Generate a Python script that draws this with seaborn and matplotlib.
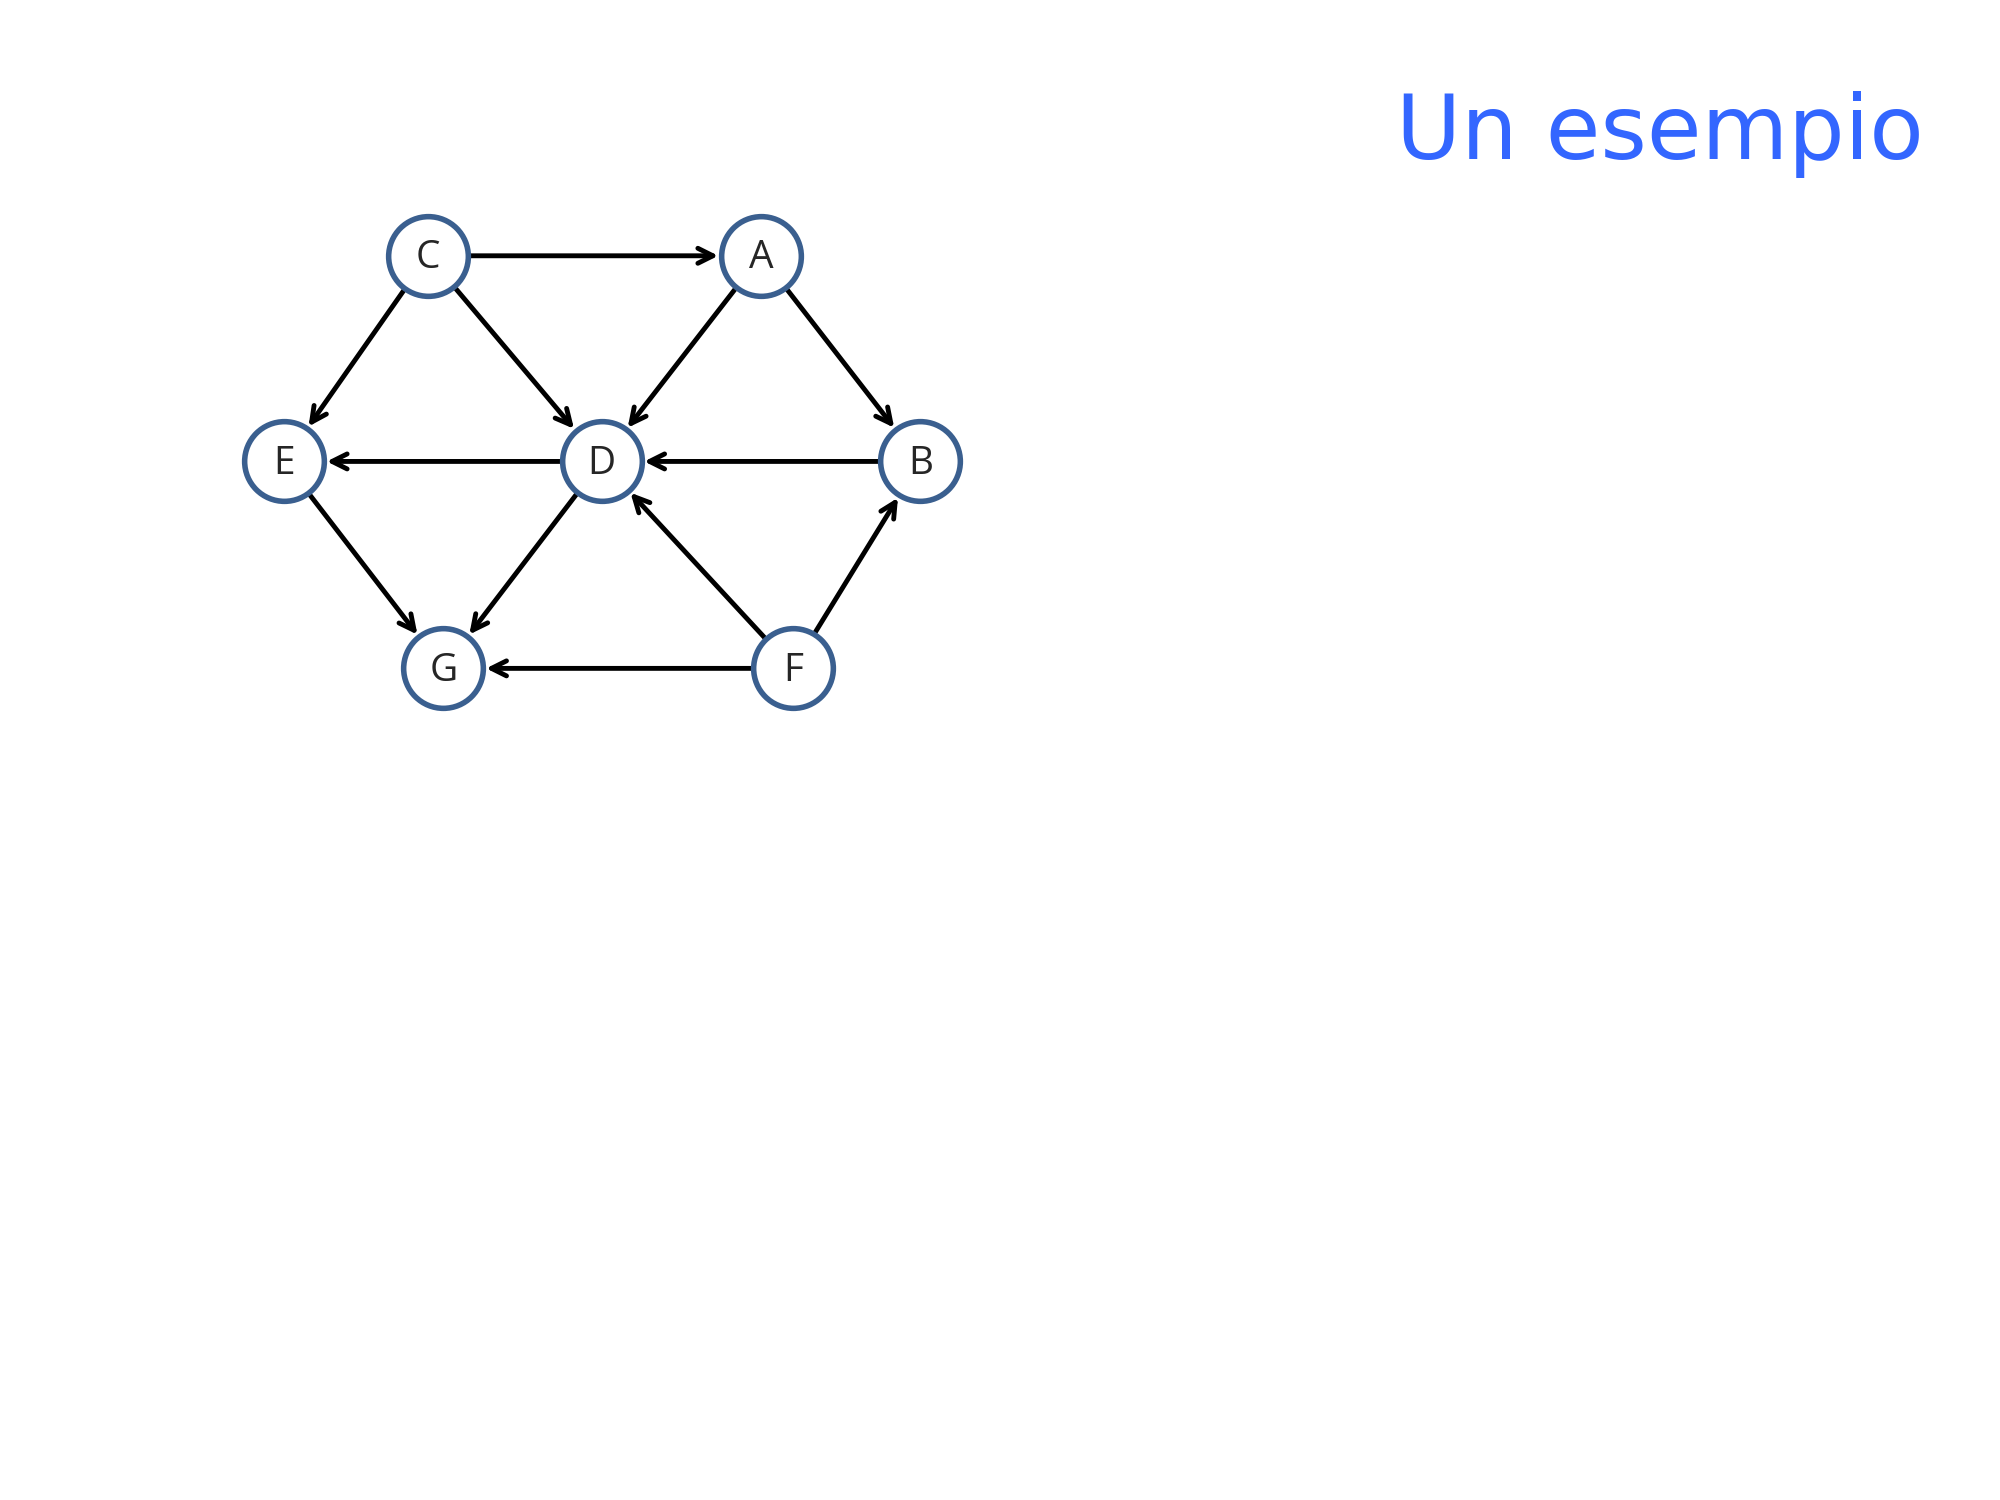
import matplotlib
matplotlib.use("Agg")
import matplotlib.pyplot as plt
import seaborn as sns
import pandas as pd

# node positions (page coords, 1556 x 1167 frame)
names = ["C", "A", "E", "D", "B", "G", "F"]
xs = [333, 592, 221, 468, 716, 345, 617]
ys = [199, 199, 359, 359, 359, 520, 520]
edges = [("C", "A"), ("C", "E"), ("C", "D"), ("A", "D"), ("A", "B"),
         ("D", "E"), ("B", "D"), ("D", "G"), ("E", "G"),
         ("F", "D"), ("F", "B"), ("F", "G")]

sns.set_theme(style="white")
fig = plt.figure(figsize=(20, 15), dpi=100)
ax = fig.add_axes([0, 0, 1, 1])
ax.set_xlim(0, 1556)
ax.set_ylim(1167, 0)
ax.axis("off")

nodes = pd.DataFrame({"name": names, "x": xs, "y": ys})
pos = {n: (x, y) for n, x, y in zip(names, xs, ys)}

# radius in points for marker; node radius ~31 units → scale to points
r_pts = 31 * (20 * 72 / 1556)
for a, b in edges:
    ax.annotate("", xy=pos[b], xytext=pos[a],
                arrowprops=dict(arrowstyle="->,head_length=0.9,head_width=0.45",
                                lw=3.5, color="black",
                                shrinkA=r_pts, shrinkB=r_pts + 2),
                zorder=1)

sns.scatterplot(data=nodes, x="x", y="y", ax=ax, s=(2 * r_pts) ** 2,
                color="white", edgecolor="#3A5F8F", linewidth=4, zorder=2,
                legend=False)
for n, x, y in zip(names, xs, ys):
    ax.text(x, y + 2, n, ha="center", va="center", fontsize=28,
            family="Open Sans", zorder=3)

ax.text(1497, 105, "Un esempio", ha="right", va="center", fontsize=64,
        color="#3366FF", family="DejaVu Sans")

fig.savefig("out.png", dpi=100)
